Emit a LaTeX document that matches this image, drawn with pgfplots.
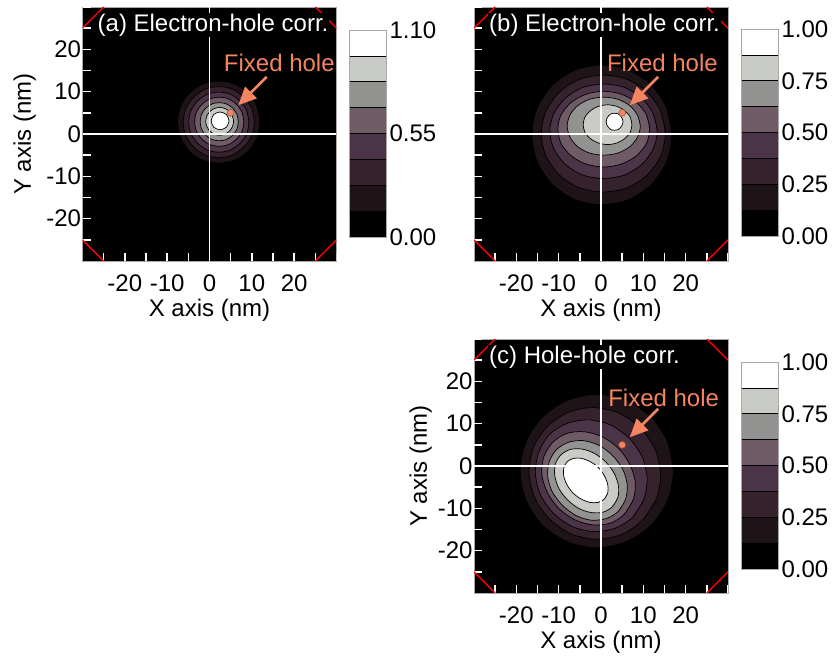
\documentclass[border=0pt]{standalone}
\usepackage{fontspec}
\setmainfont{Liberation Sans}
\usepackage{pgfplots}
\pgfplotsset{compat=1.18}
\usetikzlibrary{arrows.meta}

\definecolor{lv1}{HTML}{1E1418}
\definecolor{lv2}{HTML}{36222C}
\definecolor{lv3}{HTML}{4B3447}
\definecolor{lv4}{HTML}{6E5B65}
\definecolor{lv5}{HTML}{929291}
\definecolor{lv6}{HTML}{C8CBC6}
\definecolor{lv7}{HTML}{FFFFFF}
\definecolor{hole}{HTML}{F58461}
\definecolor{frame}{HTML}{A8A8A8}

\newcommand{\bigf}{\fontsize{24bp}{28bp}\selectfont}

% one filled contour level (closed smooth curve, first points repeated)
\newcommand{\cont}[2]{\addplot[fill=#1, draw=black, line width=0.7bp, smooth] coordinates {#2};}
\newcommand{\band}[3]{\addplot[fill=#1, draw=black, line width=0.6bp] coordinates {(0,#2)(1,#2)(1,#3)(0,#3)(0,#2)};}
\newcommand{\allbands}{%
  \band{black}{0}{1}\band{lv1}{1}{2}\band{lv2}{2}{3}\band{lv3}{3}{4}%
  \band{lv4}{4}{5}\band{lv5}{5}{6}\band{lv6}{6}{7}\band{lv7}{7}{8}}

% axes cross, white inner ticks, red corner cuts, arrow and the fixed hole
\newcommand{\extras}[3]{%
  \addplot[white, line width=1.6bp] coordinates {(0,-30)(0,30)};
  \addplot[white, line width=1.6bp] coordinates {(-30,0)(30,0)};
  \pgfplotsinvokeforeach{-25,-20,...,30}{%
    \addplot[white, line width=1.5bp] coordinates {(-30,##1)(-28.1,##1)};
    \addplot[white, line width=1.5bp] coordinates {(##1,-30)(##1,-28.1)};
  }
  \addplot[red, line width=1.5bp] coordinates {(-30,25)(-25,30)};
  \addplot[red, line width=1.5bp] coordinates {(-30,-25)(-25,-30)};
  \addplot[red, line width=1.5bp] coordinates {(30,-25)(25,-30)};
  \addplot[red, line width=1.5bp] coordinates {(30,25)(25,30)};
  \node[anchor=base west, fill=black, text=white, inner sep=1bp, font=\bigf]
    at (axis cs:-26.7,24.3) {#1};
  \addplot[hole, line width=2.8bp, -{Triangle[length=18bp,width=16bp]}]
    coordinates {(13.5,13.5)(6.8,6.8)};
  \addplot[only marks, mark=*, mark size=3.5bp,
    mark options={fill=hole, draw=black!40!hole, line width=0.5bp}] coordinates {(5,5)};
  \node[text=hole, font=\bigf] at (axis cs:#2,#3) {Fixed hole};
}

\pgfplotsset{
  panel/.style={
    scale only axis, width=254bp, height=254bp,
    xmin=-30, xmax=30, ymin=-30, ymax=30,
    axis background/.style={fill=black},
    axis line style={frame, line width=0.8bp},
    xtick={-20,-10,...,20}, ytick={-20,-10,...,20},
    xticklabels={-20,-10,0,10,20}, yticklabels={-20,-10,0,10,20},
    xtick pos=left, ytick pos=left,
    major tick length=0pt,
    tick label style={font=\bigf},
    xticklabel style={yshift=-10bp},
    yticklabel style={xshift=2bp},
    label style={font=\bigf},
    xlabel={X axis (nm)},
    xlabel style={at={(axis description cs:0.5,-0.193)}, anchor=center},
  },
  cbar/.style={
    scale only axis, width=37bp, height=207bp,
    xmin=0, xmax=1, ymin=0, ymax=8,
    axis on top,
    axis line style={frame, line width=0.8bp},
    xtick=\empty, ytick pos=right, yticklabel pos=right,
    major tick length=0pt,
    tick label style={font=\bigf},
  },
}

\begin{document}
\begin{tikzpicture}
\useasboundingbox (0,0) rectangle (840bp,656bp);

% (a)
\begin{axis}[panel, at={(82.5bp,395bp)}, anchor=south west,
  ylabel={Y axis (nm)},
  ylabel style={at={(axis description cs:-0.228,0.5)}, anchor=center}]
\cont{lv1}{(11.9,2.8)(11.2,6.5)(9.1,9.7)(5.9,11.8)(2.2,12.5)(-1.5,11.8)(-4.7,9.7)(-6.8,6.5)(-7.5,2.8)(-6.8,-0.9)(-4.7,-4.1)(-1.5,-6.2)(2.2,-6.9)(5.9,-6.2)(9.1,-4.1)(11.2,-0.9)(11.9,2.8)(11.2,6.5)}
\cont{lv2}{(10.6,2.8)(10.0,6.0)(8.1,8.7)(5.4,10.6)(2.2,11.2)(-1.0,10.6)(-3.7,8.7)(-5.6,6.0)(-6.2,2.8)(-5.6,-0.4)(-3.7,-3.1)(-1.0,-5.0)(2.2,-5.6)(5.4,-5.0)(8.1,-3.1)(10.0,-0.4)(10.6,2.8)(10.0,6.0)}
\cont{lv3}{(9.3,2.8)(8.8,5.5)(7.2,7.8)(4.9,9.4)(2.2,9.9)(-0.5,9.4)(-2.8,7.8)(-4.4,5.5)(-4.9,2.8)(-4.4,0.1)(-2.8,-2.2)(-0.5,-3.8)(2.2,-4.3)(4.9,-3.8)(7.2,-2.2)(8.8,0.1)(9.3,2.8)(8.8,5.5)}
\cont{lv4}{(8.1,2.9)(7.7,5.1)(6.4,7.0)(4.5,8.3)(2.3,8.7)(0.1,8.3)(-1.8,7.0)(-3.1,5.1)(-3.5,2.9)(-3.1,0.7)(-1.8,-1.2)(0.1,-2.5)(2.3,-2.9)(4.5,-2.5)(6.4,-1.2)(7.7,0.7)(8.1,2.9)(7.7,5.1)}
\cont{lv5}{(6.8,2.9)(6.5,4.6)(5.5,6.1)(4.0,7.1)(2.3,7.4)(0.6,7.1)(-0.9,6.1)(-1.9,4.6)(-2.2,2.9)(-1.9,1.2)(-0.9,-0.3)(0.6,-1.3)(2.3,-1.6)(4.0,-1.3)(5.5,-0.3)(6.5,1.2)(6.8,2.9)(6.5,4.6)}
\cont{lv6}{(5.7,3.0)(5.4,4.3)(4.7,5.3)(3.7,6.0)(2.4,6.3)(1.1,6.0)(0.1,5.3)(-0.6,4.3)(-0.9,3.0)(-0.6,1.7)(0.1,0.7)(1.1,0.0)(2.4,-0.3)(3.7,0.0)(4.7,0.7)(5.4,1.7)(5.7,3.0)(5.4,4.3)}
\cont{lv7}{(4.6,3.1)(4.4,3.9)(4.0,4.6)(3.3,5.0)(2.5,5.2)(1.7,5.0)(1.0,4.6)(0.6,3.9)(0.4,3.1)(0.6,2.3)(1.0,1.6)(1.7,1.2)(2.5,1.0)(3.3,1.2)(4.0,1.6)(4.4,2.3)(4.6,3.1)(4.4,3.9)}
\extras{(a) Electron-hole corr.}{16.5}{16.7}
\end{axis}
\begin{axis}[cbar, at={(349bp,419bp)}, anchor=south west,
  ytick={0,4,8}, yticklabels={0.00,0.55,1.10}]
\allbands
\end{axis}

% (b)
\begin{axis}[panel, at={(474bp,395bp)}, anchor=south west, yticklabels={}]
\cont{lv1}{(16.7,-0.2)(15.5,6.1)(11.9,11.5)(6.5,15.1)(0.2,16.3)(-6.1,15.1)(-11.5,11.5)(-15.1,6.1)(-16.3,-0.2)(-15.1,-6.5)(-11.5,-11.9)(-6.1,-15.5)(0.2,-16.7)(6.5,-15.5)(11.9,-11.9)(15.5,-6.5)(16.7,-0.2)(15.5,6.1)}
\cont{lv2}{(15.2,0.1)(14.1,5.4)(10.9,9.9)(6.2,12.9)(0.6,13.9)(-5.1,12.9)(-9.8,9.9)(-13.0,5.4)(-14.1,0.1)(-13.0,-5.2)(-9.8,-9.7)(-5.1,-12.7)(0.6,-13.7)(6.2,-12.7)(10.9,-9.7)(14.1,-5.2)(15.2,0.1)(14.1,5.4)}
\cont{lv3}{(13.3,0.7)(12.3,4.9)(9.6,8.5)(5.5,11.0)(0.6,11.8)(-4.3,11.0)(-8.4,8.5)(-11.1,4.9)(-12.1,0.7)(-11.1,-3.6)(-8.4,-7.2)(-4.3,-9.7)(0.6,-10.5)(5.5,-9.7)(9.6,-7.2)(12.3,-3.6)(13.3,0.7)(12.3,4.9)}
\cont{lv4}{(11.5,1.2)(10.7,4.6)(8.3,7.5)(4.8,9.4)(0.7,10.1)(-3.5,9.4)(-7.0,7.5)(-9.4,4.6)(-10.2,1.2)(-9.4,-2.3)(-7.0,-5.2)(-3.5,-7.1)(0.7,-7.8)(4.8,-7.1)(8.3,-5.2)(10.7,-2.3)(11.5,1.2)(10.7,4.6)}
\cont{lv5}{(9.3,1.9)(8.6,4.5)(6.8,6.7)(4.0,8.2)(0.7,8.7)(-2.7,8.2)(-5.5,6.7)(-7.3,4.5)(-8.0,1.9)(-7.3,-0.8)(-5.5,-3.0)(-2.7,-4.5)(0.7,-5.0)(4.0,-4.5)(6.8,-3.0)(8.6,-0.8)(9.3,1.9)(8.6,4.5)}
\cont{lv6}{(7.3,2.2)(6.9,4.0)(5.6,5.5)(3.8,6.5)(1.6,6.9)(-0.7,6.5)(-2.5,5.5)(-3.8,4.0)(-4.2,2.2)(-3.8,0.4)(-2.5,-1.1)(-0.7,-2.1)(1.6,-2.5)(3.8,-2.1)(5.6,-1.1)(6.9,0.4)(7.3,2.2)(6.9,4.0)}
\cont{lv7}{(5.2,2.9)(5.0,3.7)(4.6,4.3)(4.0,4.8)(3.2,4.9)(2.4,4.8)(1.8,4.3)(1.4,3.7)(1.2,2.9)(1.4,2.1)(1.8,1.5)(2.4,1.0)(3.2,0.9)(4.0,1.0)(4.6,1.5)(5.0,2.1)(5.2,2.9)(5.0,3.7)}
\extras{(b) Electron-hole corr.}{14.5}{16.7}
\end{axis}
\begin{axis}[cbar, at={(741bp,420bp)}, anchor=south west,
  ytick={0,2,4,6,8}, yticklabels={0.00,0.25,0.50,0.75,1.00}]
\allbands
\end{axis}

% (c)
\begin{axis}[panel, at={(474bp,63bp)}, anchor=south west,
  ylabel={Y axis (nm)},
  ylabel style={at={(axis description cs:-0.21,0.5)}, anchor=center}]
\cont{lv1}{(17.1,-1.2)(15.7,5.7)(11.8,11.6)(5.9,15.5)(-1.0,16.9)(-7.9,15.5)(-13.8,11.6)(-17.7,5.7)(-19.1,-1.2)(-17.7,-8.1)(-13.8,-14.0)(-7.9,-17.9)(-1.0,-19.3)(5.9,-17.9)(11.8,-14.0)(15.7,-8.1)(17.1,-1.2)(15.7,5.7)}
\cont{lv2}{(9.7,-12.9)(13.0,-8.0)(14.1,-2.1)(12.8,3.9)(9.3,9.0)(4.2,12.5)(-1.8,13.8)(-7.7,12.7)(-12.6,9.4)(-15.9,4.5)(-17.0,-1.5)(-15.7,-7.4)(-12.2,-12.5)(-7.1,-16.0)(-1.2,-17.3)(4.8,-16.2)(9.7,-12.9)(13.0,-8.0)}
\cont{lv3}{(7.5,-12.1)(10.1,-7.9)(10.9,-2.9)(9.7,2.2)(6.6,6.6)(2.2,9.7)(-2.9,10.9)(-7.9,10.1)(-12.1,7.5)(-14.7,3.3)(-15.5,-1.7)(-14.3,-6.8)(-11.2,-11.2)(-6.8,-14.3)(-1.7,-15.5)(3.3,-14.7)(7.5,-12.1)(10.1,-7.9)}
\cont{lv4}{(5.5,-11.4)(7.6,-8.0)(8.1,-3.9)(6.8,0.4)(4.1,4.2)(0.3,6.9)(-4.0,8.1)(-8.1,7.7)(-11.4,5.6)(-13.5,2.2)(-14.0,-1.9)(-12.7,-6.2)(-10.0,-10.0)(-6.2,-12.7)(-2.0,-13.9)(2.2,-13.5)(5.5,-11.4)(7.6,-8.0)}
\cont{lv5}{(4.1,-10.7)(5.8,-7.9)(6.2,-4.4)(5.1,-0.7)(2.7,2.5)(-0.5,4.9)(-4.2,6.0)(-7.7,5.6)(-10.5,3.9)(-12.2,1.1)(-12.6,-2.5)(-11.5,-6.1)(-9.1,-9.3)(-5.9,-11.7)(-2.3,-12.8)(1.3,-12.4)(4.1,-10.7)(5.8,-7.9)}
\cont{lv6}{(2.7,-9.6)(4.0,-7.4)(4.1,-4.6)(3.1,-1.7)(1.1,1.0)(-1.6,3.0)(-4.5,4.0)(-7.3,3.9)(-9.5,2.6)(-10.8,0.4)(-10.9,-2.4)(-9.9,-5.4)(-7.9,-8.0)(-5.3,-10.0)(-2.3,-11.0)(0.5,-10.9)(2.7,-9.6)(4.0,-7.4)}
\cont{lv7}{(0.8,-7.8)(1.6,-6.3)(1.6,-4.4)(0.8,-2.3)(-0.6,-0.4)(-2.5,1.0)(-4.6,1.8)(-6.5,1.8)(-8.0,1.0)(-8.8,-0.5)(-8.8,-2.4)(-8.0,-4.5)(-6.6,-6.4)(-4.7,-7.8)(-2.6,-8.6)(-0.7,-8.6)(0.8,-7.8)(1.6,-6.3)}
\extras{(c) Hole-hole corr.}{14.8}{16.2}
\end{axis}
\begin{axis}[cbar, at={(741bp,87bp)}, anchor=south west,
  ytick={0,2,4,6,8}, yticklabels={0.00,0.25,0.50,0.75,1.00}]
\allbands
\end{axis}
\end{tikzpicture}
\end{document}
